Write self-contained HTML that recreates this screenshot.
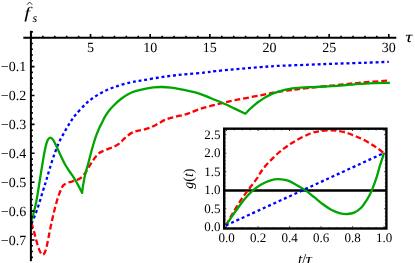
<!DOCTYPE html>
<html><head><meta charset="utf-8"><title>plot</title>
<style>html,body{margin:0;padding:0;background:#fff;}body{width:415px;height:263px;overflow:hidden;}svg{display:block;font-family:"Liberation Serif",serif;text-rendering:geometricPrecision;will-change:transform;}</style></head><body>
<svg width="415" height="263" viewBox="0 0 415 263">
<rect width="415" height="263" fill="#fff"/>
<g fill="none" stroke-width="2.3" stroke-linejoin="round">
<path d="M30.90 223.00C31.15 222.73 31.32 223.77 32.40 221.40C33.48 219.03 35.62 213.95 37.40 208.80C39.18 203.65 41.58 195.38 43.10 190.50C44.62 185.62 45.32 183.42 46.50 179.50C47.68 175.58 48.77 171.55 50.20 167.00C51.63 162.45 53.48 156.60 55.10 152.20C56.72 147.80 58.13 144.32 59.90 140.60C61.67 136.88 63.93 133.03 65.70 129.90C67.47 126.77 68.88 124.28 70.50 121.80C72.12 119.32 72.92 117.93 75.40 115.00C77.88 112.07 82.63 106.92 85.40 104.20C88.17 101.48 89.72 100.38 92.00 98.70C94.28 97.02 96.68 95.52 99.10 94.10C101.52 92.68 104.10 91.32 106.50 90.20C108.90 89.08 111.10 88.28 113.50 87.40C115.90 86.52 118.15 85.70 120.90 84.90C123.65 84.10 127.32 83.23 130.00 82.60C132.68 81.97 134.50 81.55 137.00 81.10C139.50 80.65 141.25 80.52 145.00 79.90C148.75 79.28 154.68 78.13 159.50 77.40C164.32 76.67 169.08 76.07 173.90 75.50C178.72 74.93 183.22 74.50 188.40 74.00C193.58 73.50 200.50 72.97 205.00 72.50C209.50 72.03 211.13 71.68 215.40 71.20C219.67 70.72 225.53 70.08 230.60 69.60C235.67 69.12 240.73 68.72 245.80 68.30C250.87 67.88 255.93 67.48 261.00 67.10C266.07 66.72 268.22 66.40 276.20 66.00C284.18 65.60 298.63 65.10 308.90 64.70C319.17 64.30 328.17 63.93 337.80 63.60C347.43 63.27 358.20 63.00 366.70 62.70C375.20 62.40 385.12 61.95 388.80 61.80" stroke="#0000ff" stroke-dasharray="3 2.8"/>
<path d="M30.90 223.00C31.08 223.30 31.52 223.47 32.00 224.80C32.48 226.13 33.17 228.72 33.80 231.00C34.43 233.28 35.13 236.07 35.80 238.50C36.47 240.93 37.17 243.58 37.80 245.60C38.43 247.62 39.03 249.27 39.60 250.60C40.17 251.93 40.70 252.93 41.20 253.60C41.70 254.27 42.13 254.57 42.60 254.60C43.07 254.63 43.53 254.40 44.00 253.80C44.47 253.20 44.92 252.38 45.40 251.00C45.88 249.62 46.37 247.83 46.90 245.50C47.43 243.17 47.98 240.08 48.60 237.00C49.22 233.92 49.92 230.27 50.60 227.00C51.28 223.73 52.00 220.43 52.70 217.40C53.40 214.37 54.03 211.78 54.80 208.80C55.57 205.82 56.52 202.10 57.30 199.50C58.08 196.90 58.80 195.05 59.50 193.20C60.20 191.35 60.80 189.77 61.50 188.40C62.20 187.03 62.48 186.02 63.70 185.00C64.92 183.98 66.98 183.00 68.80 182.30C70.62 181.60 72.68 181.47 74.60 180.80C76.52 180.13 78.62 179.47 80.30 178.30C81.98 177.13 83.37 175.52 84.70 173.80C86.03 172.08 87.10 169.93 88.30 168.00C89.50 166.07 90.70 164.03 91.90 162.20C93.10 160.37 94.22 158.57 95.50 157.00C96.78 155.43 97.85 154.00 99.60 152.80C101.35 151.60 103.55 150.85 106.00 149.80C108.45 148.75 111.97 147.63 114.30 146.50C116.63 145.37 118.48 144.18 120.00 143.00C121.52 141.82 122.12 140.63 123.40 139.40C124.68 138.17 126.17 136.77 127.70 135.60C129.23 134.43 130.97 133.20 132.60 132.40C134.23 131.60 135.75 131.23 137.50 130.80C139.25 130.37 140.88 130.37 143.10 129.80C145.32 129.23 148.25 128.45 150.80 127.40C153.35 126.35 155.87 124.83 158.40 123.50C160.93 122.17 163.22 120.52 166.00 119.40C168.78 118.28 172.07 117.58 175.10 116.80C178.13 116.02 181.72 115.35 184.20 114.70C186.68 114.05 187.37 113.85 190.00 112.90C192.63 111.95 196.40 110.20 200.00 109.00C203.60 107.80 207.75 106.73 211.60 105.70C215.45 104.67 219.20 103.72 223.10 102.80C227.00 101.88 230.60 101.10 235.00 100.20C239.40 99.30 244.67 98.33 249.50 97.40C254.33 96.47 259.55 95.48 264.00 94.60C268.45 93.72 272.08 92.80 276.20 92.10C280.32 91.40 285.18 90.87 288.70 90.40C292.22 89.93 293.93 89.72 297.30 89.30C300.67 88.88 304.55 88.38 308.90 87.90C313.25 87.42 318.58 86.88 323.40 86.40C328.22 85.92 332.98 85.48 337.80 85.00C342.62 84.52 347.48 83.97 352.30 83.50C357.12 83.03 361.52 82.63 366.70 82.20C371.88 81.77 379.85 81.17 383.40 80.90C386.95 80.63 387.23 80.65 388.00 80.60" stroke="#ff0000" stroke-dasharray="5.8 2.9"/>
<path d="M30.90 223.00C31.33 221.42 32.65 216.78 33.50 213.50C34.35 210.22 35.22 207.13 36.00 203.30C36.78 199.47 37.53 194.55 38.20 190.50C38.87 186.45 39.28 183.50 40.00 179.00C40.72 174.50 41.63 168.58 42.50 163.50C43.37 158.42 44.35 152.37 45.20 148.50C46.05 144.63 46.77 142.12 47.60 140.30C48.43 138.48 49.28 137.68 50.20 137.60C51.12 137.52 51.97 138.17 53.10 139.80C54.23 141.43 55.70 144.68 57.00 147.40C58.30 150.12 59.60 153.33 60.90 156.10C62.20 158.87 63.35 161.43 64.80 164.00C66.25 166.57 68.00 169.07 69.60 171.50C71.20 173.93 72.90 176.18 74.40 178.60C75.90 181.02 77.32 183.62 78.60 186.00C79.88 188.38 81.52 191.75 82.10 192.90C82.28 191.52 82.67 187.75 83.20 184.60C83.73 181.45 84.48 177.43 85.30 174.00C86.12 170.57 87.00 168.08 88.10 164.00C89.20 159.92 90.62 154.05 91.90 149.50C93.18 144.95 94.57 140.28 95.80 136.70C97.03 133.12 98.23 130.42 99.30 128.00C100.37 125.58 101.25 124.08 102.20 122.20C103.15 120.32 103.90 118.57 105.00 116.70C106.10 114.83 107.35 112.87 108.80 111.00C110.25 109.13 111.68 107.50 113.70 105.50C115.72 103.50 118.50 100.87 120.90 99.00C123.30 97.13 125.68 95.60 128.10 94.30C130.52 93.00 132.58 92.12 135.40 91.20C138.22 90.28 141.95 89.45 145.00 88.80C148.05 88.15 150.82 87.60 153.70 87.30C156.58 87.00 159.42 86.93 162.30 87.00C165.18 87.07 168.10 87.35 171.00 87.70C173.90 88.05 176.80 88.57 179.70 89.10C182.60 89.63 185.02 90.12 188.40 90.90C191.78 91.68 196.13 92.53 200.00 93.80C203.87 95.07 207.75 96.93 211.60 98.50C215.45 100.07 219.25 101.52 223.10 103.20C226.95 104.88 230.98 106.85 234.70 108.60C238.42 110.35 243.62 112.85 245.40 113.70C245.97 113.10 247.65 111.25 248.80 110.10C249.95 108.95 251.12 107.85 252.30 106.80C253.48 105.75 254.68 104.75 255.90 103.80C257.12 102.85 258.38 101.97 259.60 101.10C260.82 100.23 262.00 99.38 263.20 98.60C264.40 97.82 265.60 97.07 266.80 96.40C268.00 95.73 269.20 95.15 270.40 94.60C271.60 94.05 272.20 93.73 274.00 93.10C275.80 92.47 278.78 91.45 281.20 90.80C283.62 90.15 286.20 89.63 288.50 89.20C290.80 88.77 291.60 88.53 295.00 88.20C298.40 87.87 304.17 87.48 308.90 87.20C313.63 86.92 318.22 86.77 323.40 86.50C328.58 86.23 334.82 85.97 340.00 85.60C345.18 85.23 349.68 84.68 354.50 84.30C359.32 83.92 364.08 83.53 368.90 83.30C373.72 83.07 379.90 82.95 383.40 82.90C386.90 82.85 388.82 82.98 389.90 83.00" stroke="#00a600"/>
</g>
<g stroke="#000" fill="none">
<path d="M23.30 37.70H396.30" stroke-width="2"/>
<path d="M30.90 30.80V261.20" stroke-width="2"/>
<path d="M30.90 37.70v-3.60M42.83 37.70v-2.00M54.76 37.70v-2.00M66.69 37.70v-2.00M78.62 37.70v-2.00M90.55 37.70v-3.60M102.48 37.70v-2.00M114.41 37.70v-2.00M126.34 37.70v-2.00M138.27 37.70v-2.00M150.20 37.70v-3.60M162.13 37.70v-2.00M174.06 37.70v-2.00M185.99 37.70v-2.00M197.92 37.70v-2.00M209.85 37.70v-3.60M221.78 37.70v-2.00M233.71 37.70v-2.00M245.64 37.70v-2.00M257.57 37.70v-2.00M269.50 37.70v-3.60M281.43 37.70v-2.00M293.36 37.70v-2.00M305.29 37.70v-2.00M317.22 37.70v-2.00M329.15 37.70v-3.60M341.08 37.70v-2.00M353.01 37.70v-2.00M364.94 37.70v-2.00M376.87 37.70v-2.00M388.80 37.70v-3.60" stroke-width="1.6"/>
<path d="M30.90 31.92h2.0M30.90 37.70h3.60M30.90 43.48h2.00M30.90 49.26h2.00M30.90 55.04h2.00M30.90 60.82h2.00M30.90 66.60h3.60M30.90 72.38h2.00M30.90 78.16h2.00M30.90 83.94h2.00M30.90 89.72h2.00M30.90 95.50h3.60M30.90 101.28h2.00M30.90 107.06h2.00M30.90 112.84h2.00M30.90 118.62h2.00M30.90 124.40h3.60M30.90 130.18h2.00M30.90 135.96h2.00M30.90 141.74h2.00M30.90 147.52h2.00M30.90 153.30h3.60M30.90 159.08h2.00M30.90 164.86h2.00M30.90 170.64h2.00M30.90 176.42h2.00M30.90 182.20h3.60M30.90 187.98h2.00M30.90 193.76h2.00M30.90 199.54h2.00M30.90 205.32h2.00M30.90 211.10h3.60M30.90 216.88h2.00M30.90 222.66h2.00M30.90 228.44h2.00M30.90 234.22h2.00M30.90 240.00h3.60M30.90 245.78h2.00M30.90 251.56h2.00M30.90 257.34h2.00" stroke-width="1.6"/>
</g>
<g font-size="14" fill="#000">
<text x="90.55" y="52.0" text-anchor="middle">5</text>
<text x="150.20" y="52.0" text-anchor="middle">10</text>
<text x="209.85" y="52.0" text-anchor="middle">15</text>
<text x="269.50" y="52.0" text-anchor="middle">20</text>
<text x="329.15" y="52.0" text-anchor="middle">25</text>
<text x="388.80" y="52.0" text-anchor="middle">30</text>
<text x="26.2" y="71.40" text-anchor="end">−0.1</text>
<text x="26.2" y="100.30" text-anchor="end">−0.2</text>
<text x="26.2" y="129.20" text-anchor="end">−0.3</text>
<text x="26.2" y="158.10" text-anchor="end">−0.4</text>
<text x="26.2" y="187.00" text-anchor="end">−0.5</text>
<text x="26.2" y="215.90" text-anchor="end">−0.6</text>
<text x="26.2" y="244.80" text-anchor="end">−0.7</text>
</g>
<text transform="translate(405.2 41.9) scale(1.32 1.04)" font-size="15" font-style="italic">τ</text>
<text transform="translate(27.1 17.8) scale(1.32 1)" text-anchor="middle" font-size="16" font-style="italic">f</text>
<text x="32.6" y="21.6" font-size="12" font-style="italic">s</text>
<path d="M27 4.7L29.6 2L32.2 4.7" fill="none" stroke="#000" stroke-width="0.8"/>
<rect x="224.20" y="128.70" width="162.20" height="99.80" fill="#fff"/>
<g fill="none" stroke-width="2.3">
<path d="M224.20 190.50H386.40" stroke="#000" stroke-width="2.4"/>
<path d="M226.00 225.40C226.80 223.93 229.15 219.50 230.80 216.60C232.45 213.70 234.00 211.07 235.90 208.00C237.80 204.93 240.08 201.28 242.20 198.20C244.32 195.12 246.23 192.67 248.60 189.50C250.97 186.33 253.93 182.72 256.40 179.20C258.87 175.68 260.43 172.13 263.40 168.40C266.37 164.67 270.58 160.27 274.20 156.80C277.82 153.33 281.48 150.30 285.10 147.60C288.72 144.90 291.68 142.95 295.90 140.60C300.12 138.25 306.10 135.12 310.40 133.50C314.70 131.88 318.02 131.42 321.70 130.90C325.38 130.38 328.88 130.23 332.50 130.40C336.12 130.57 339.78 131.03 343.40 131.90C347.02 132.77 350.58 134.15 354.20 135.60C357.82 137.05 361.48 138.68 365.10 140.60C368.72 142.52 372.75 145.00 375.90 147.10C379.05 149.20 382.65 152.18 384.00 153.20" stroke="#ff0000" stroke-dasharray="5.8 2.9"/>
<path d="M226.00 225.40C226.93 223.97 229.62 219.70 231.60 216.80C233.58 213.90 235.72 210.98 237.90 208.00C240.08 205.02 242.15 201.87 244.70 198.90C247.25 195.93 250.45 192.60 253.20 190.20C255.95 187.80 258.42 186.10 261.20 184.50C263.98 182.90 267.03 181.48 269.90 180.60C272.77 179.72 275.35 179.18 278.40 179.20C281.45 179.22 285.12 179.70 288.20 180.70C291.28 181.70 294.00 183.58 296.90 185.20C299.80 186.82 302.72 188.40 305.60 190.40C308.48 192.40 311.32 194.88 314.20 197.20C317.08 199.52 320.00 202.17 322.90 204.30C325.80 206.43 328.70 208.50 331.60 210.00C334.50 211.50 337.67 212.63 340.30 213.30C342.93 213.97 345.08 214.12 347.40 214.00C349.72 213.88 351.92 213.63 354.20 212.60C356.48 211.57 358.82 210.20 361.10 207.80C363.38 205.40 366.18 200.93 367.90 198.20C369.62 195.47 369.97 194.82 371.40 191.40C372.83 187.98 375.08 181.98 376.50 177.70C377.92 173.42 378.65 169.78 379.90 165.70C381.15 161.62 383.32 155.28 384.00 153.20" stroke="#00a600"/>
<path d="M226.00 225.40C252.33 213.33 357.67 165.07 384.00 153.00" stroke="#0000ff" stroke-dasharray="3 2.8"/>
</g>
<rect x="224.20" y="128.70" width="162.20" height="99.80" fill="none" stroke="#000" stroke-width="2.4"/>
<path d="M226.60 227.40v-1.00M226.60 129.80v1.00M234.47 227.40v-0.45M234.47 129.80v0.45M242.34 227.40v-0.45M242.34 129.80v0.45M250.21 227.40v-0.45M250.21 129.80v0.45M258.08 227.40v-1.00M258.08 129.80v1.00M265.95 227.40v-0.45M265.95 129.80v0.45M273.82 227.40v-0.45M273.82 129.80v0.45M281.69 227.40v-0.45M281.69 129.80v0.45M289.56 227.40v-1.00M289.56 129.80v1.00M297.43 227.40v-0.45M297.43 129.80v0.45M305.30 227.40v-0.45M305.30 129.80v0.45M313.17 227.40v-0.45M313.17 129.80v0.45M321.04 227.40v-1.00M321.04 129.80v1.00M328.91 227.40v-0.45M328.91 129.80v0.45M336.78 227.40v-0.45M336.78 129.80v0.45M344.65 227.40v-0.45M344.65 129.80v0.45M352.52 227.40v-1.00M352.52 129.80v1.00M360.39 227.40v-0.45M360.39 129.80v0.45M368.26 227.40v-0.45M368.26 129.80v0.45M376.13 227.40v-0.45M376.13 129.80v0.45M384.00 227.40v-1.00M384.00 129.80v1.00M225.30 227.30h1.00M385.30 227.30h-1.00M225.30 223.59h0.45M385.30 223.59h-0.45M225.30 219.89h0.45M385.30 219.89h-0.45M225.30 216.19h0.45M385.30 216.19h-0.45M225.30 212.48h0.45M385.30 212.48h-0.45M225.30 208.78h1.00M385.30 208.78h-1.00M225.30 205.07h0.45M385.30 205.07h-0.45M225.30 201.37h0.45M385.30 201.37h-0.45M225.30 197.66h0.45M385.30 197.66h-0.45M225.30 193.96h0.45M385.30 193.96h-0.45M225.30 190.25h1.00M385.30 190.25h-1.00M225.30 186.55h0.45M385.30 186.55h-0.45M225.30 182.84h0.45M385.30 182.84h-0.45M225.30 179.14h0.45M385.30 179.14h-0.45M225.30 175.43h0.45M385.30 175.43h-0.45M225.30 171.73h1.00M385.30 171.73h-1.00M225.30 168.02h0.45M385.30 168.02h-0.45M225.30 164.31h0.45M385.30 164.31h-0.45M225.30 160.61h0.45M385.30 160.61h-0.45M225.30 156.91h0.45M385.30 156.91h-0.45M225.30 153.20h1.00M385.30 153.20h-1.00M225.30 149.50h0.45M385.30 149.50h-0.45M225.30 145.79h0.45M385.30 145.79h-0.45M225.30 142.09h0.45M385.30 142.09h-0.45M225.30 138.38h0.45M385.30 138.38h-0.45M225.30 134.68h1.00M385.30 134.68h-1.00M225.30 130.97h0.45M385.30 130.97h-0.45" stroke="#000" stroke-width="1" fill="none"/>
<g font-size="13" fill="#000">
<text x="226.60" y="242.1" text-anchor="middle">0.0</text>
<text x="258.08" y="242.1" text-anchor="middle">0.2</text>
<text x="289.56" y="242.1" text-anchor="middle">0.4</text>
<text x="321.04" y="242.1" text-anchor="middle">0.6</text>
<text x="352.52" y="242.1" text-anchor="middle">0.8</text>
<text x="384.00" y="242.1" text-anchor="middle">1.0</text>
<text x="220.6" y="231.30" text-anchor="end">0.0</text>
<text x="220.6" y="212.78" text-anchor="end">0.5</text>
<text x="220.6" y="194.25" text-anchor="end">1.0</text>
<text x="220.6" y="175.73" text-anchor="end">1.5</text>
<text x="220.6" y="157.20" text-anchor="end">2.0</text>
<text x="220.6" y="138.68" text-anchor="end">2.5</text>
</g>
<text x="297.9" y="263.5" font-size="15"><tspan font-style="italic">t</tspan>/</text>
<text transform="translate(305.4 263.5) scale(1.22 1.02)" font-size="15" font-style="italic">τ</text>
<text transform="translate(193.4 178.6) rotate(-90)" font-size="14" text-anchor="middle"><tspan font-style="italic">g</tspan>(<tspan font-style="italic">t</tspan>)</text>
</svg></body></html>
